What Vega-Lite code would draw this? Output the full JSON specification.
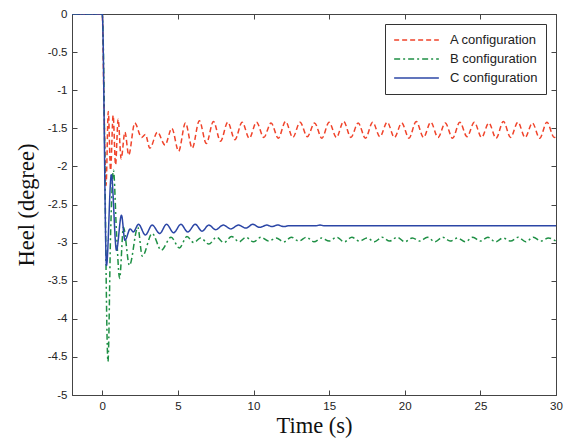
{
  "$schema": "https://vega.github.io/schema/vega-lite/v6.json",
  "width": 484,
  "height": 381,
  "autosize": {"type": "none"},
  "padding": {"left": 72, "top": 14, "right": 16, "bottom": 43},
  "background": "white",
  "config": {
    "view": {"stroke": "#444", "strokeWidth": 1},
    "axis": {
      "grid": false,
      "domainColor": "#444",
      "tickColor": "#444",
      "tickSize": -5,
      "labelFont": "Liberation Sans",
      "labelFontSize": 11.5,
      "labelColor": "#222",
      "titleFont": "Liberation Serif",
      "titleFontSize": 22.5,
      "titleFontWeight": "normal",
      "titleColor": "#111"
    },
    "legend": {
      "title": null, "orient": "top-right", "offset": 10, "symbolType": "stroke", "symbolSize": 2000, "symbolStrokeWidth": 1.6,
      "strokeColor": "#333", "fillColor": "white", "padding": 8, "rowPadding": 3, "clipHeight": 16,
      "labelFont": "Liberation Sans", "labelFontSize": 13, "labelColor": "#222", "labelOffset": 10
    }
  },
  "data": {
    "values": [
      {"t": -2, "v": 0, "s": "A configuration"},
      {"t": 0, "v": 0, "s": "A configuration"},
      {"t": 0.12, "v": -1.25, "s": "A configuration"},
      {"t": 0.25, "v": -2.25, "s": "A configuration"},
      {"t": 0.4, "v": -1.28, "s": "A configuration"},
      {"t": 0.55, "v": -2.05, "s": "A configuration"},
      {"t": 0.72, "v": -1.33, "s": "A configuration"},
      {"t": 0.88, "v": -1.98, "s": "A configuration"},
      {"t": 1.05, "v": -1.38, "s": "A configuration"},
      {"t": 1.25, "v": -1.9, "s": "A configuration"},
      {"t": 1.5, "v": -1.55, "s": "A configuration"},
      {"t": 1.75, "v": -1.85, "s": "A configuration"},
      {"t": 2.15, "v": -1.43, "s": "A configuration"},
      {"t": 2.6, "v": -1.62, "s": "A configuration"},
      {"t": 2.85, "v": -1.58, "s": "A configuration"},
      {"t": 3.15, "v": -1.76, "s": "A configuration"},
      {"t": 3.65, "v": -1.55, "s": "A configuration"},
      {"t": 4.15, "v": -1.72, "s": "A configuration"},
      {"t": 4.6, "v": -1.5, "s": "A configuration"},
      {"t": 5.05, "v": -1.8, "s": "A configuration"},
      {"t": 5.5, "v": -1.43, "s": "A configuration"},
      {"t": 5.95, "v": -1.76, "s": "A configuration"},
      {"t": 6.42, "v": -1.4, "s": "A configuration"},
      {"t": 6.88, "v": -1.7, "s": "A configuration"},
      {"t": 7.35, "v": -1.41, "s": "A configuration"},
      {"t": 7.82, "v": -1.67, "s": "A configuration"},
      {"t": 8.3, "v": -1.42, "s": "A configuration"},
      {"t": 8.77, "v": -1.65, "s": "A configuration"},
      {"t": 9.25, "v": -1.42, "s": "A configuration"},
      {"t": 9.72, "v": -1.63, "s": "A configuration"},
      {"t": 10.2, "v": -1.42, "s": "A configuration"},
      {"t": 10.68, "v": -1.62, "s": "A configuration"},
      {"t": 11.16, "v": -1.43, "s": "A configuration"},
      {"t": 11.64, "v": -1.63, "s": "A configuration"},
      {"t": 12.12, "v": -1.41, "s": "A configuration"},
      {"t": 12.6, "v": -1.62, "s": "A configuration"},
      {"t": 13.08, "v": -1.42, "s": "A configuration"},
      {"t": 13.56, "v": -1.61, "s": "A configuration"},
      {"t": 14.04, "v": -1.43, "s": "A configuration"},
      {"t": 14.52, "v": -1.63, "s": "A configuration"},
      {"t": 15.0, "v": -1.42, "s": "A configuration"},
      {"t": 15.48, "v": -1.62, "s": "A configuration"},
      {"t": 15.96, "v": -1.41, "s": "A configuration"},
      {"t": 16.44, "v": -1.62, "s": "A configuration"},
      {"t": 16.92, "v": -1.43, "s": "A configuration"},
      {"t": 17.4, "v": -1.63, "s": "A configuration"},
      {"t": 17.88, "v": -1.42, "s": "A configuration"},
      {"t": 18.36, "v": -1.61, "s": "A configuration"},
      {"t": 18.84, "v": -1.42, "s": "A configuration"},
      {"t": 19.32, "v": -1.62, "s": "A configuration"},
      {"t": 19.8, "v": -1.43, "s": "A configuration"},
      {"t": 20.28, "v": -1.63, "s": "A configuration"},
      {"t": 20.76, "v": -1.41, "s": "A configuration"},
      {"t": 21.24, "v": -1.62, "s": "A configuration"},
      {"t": 21.72, "v": -1.42, "s": "A configuration"},
      {"t": 22.2, "v": -1.62, "s": "A configuration"},
      {"t": 22.68, "v": -1.43, "s": "A configuration"},
      {"t": 23.16, "v": -1.63, "s": "A configuration"},
      {"t": 23.64, "v": -1.42, "s": "A configuration"},
      {"t": 24.12, "v": -1.61, "s": "A configuration"},
      {"t": 24.6, "v": -1.42, "s": "A configuration"},
      {"t": 25.08, "v": -1.62, "s": "A configuration"},
      {"t": 25.56, "v": -1.43, "s": "A configuration"},
      {"t": 26.04, "v": -1.63, "s": "A configuration"},
      {"t": 26.52, "v": -1.41, "s": "A configuration"},
      {"t": 27.0, "v": -1.62, "s": "A configuration"},
      {"t": 27.48, "v": -1.42, "s": "A configuration"},
      {"t": 27.96, "v": -1.62, "s": "A configuration"},
      {"t": 28.44, "v": -1.43, "s": "A configuration"},
      {"t": 28.92, "v": -1.63, "s": "A configuration"},
      {"t": 29.4, "v": -1.42, "s": "A configuration"},
      {"t": 29.88, "v": -1.62, "s": "A configuration"},
      {"t": 30, "v": -1.61, "s": "A configuration"},

      {"t": -2, "v": 0, "s": "B configuration"},
      {"t": 0, "v": 0, "s": "B configuration"},
      {"t": 0.38, "v": -4.56, "s": "B configuration"},
      {"t": 0.55, "v": -2.9, "s": "B configuration"},
      {"t": 0.74, "v": -2.05, "s": "B configuration"},
      {"t": 0.95, "v": -2.9, "s": "B configuration"},
      {"t": 1.15, "v": -3.47, "s": "B configuration"},
      {"t": 1.4, "v": -2.8, "s": "B configuration"},
      {"t": 1.8, "v": -3.3, "s": "B configuration"},
      {"t": 2.35, "v": -2.8, "s": "B configuration"},
      {"t": 2.65, "v": -3.18, "s": "B configuration"},
      {"t": 3.3, "v": -2.88, "s": "B configuration"},
      {"t": 3.9, "v": -3.1, "s": "B configuration"},
      {"t": 4.55, "v": -2.93, "s": "B configuration"},
      {"t": 5.1, "v": -3.07, "s": "B configuration"},
      {"t": 5.6, "v": -2.92, "s": "B configuration"},
      {"t": 6.05, "v": -3.0, "s": "B configuration"},
      {"t": 6.5, "v": -2.94, "s": "B configuration"},
      {"t": 7.05, "v": -3.02, "s": "B configuration"},
      {"t": 7.55, "v": -2.93, "s": "B configuration"},
      {"t": 8.05, "v": -3.0, "s": "B configuration"},
      {"t": 8.55, "v": -2.92, "s": "B configuration"},
      {"t": 9.05, "v": -2.99, "s": "B configuration"},
      {"t": 9.5, "v": -2.93, "s": "B configuration"},
      {"t": 10.0, "v": -2.99, "s": "B configuration"},
      {"t": 10.5, "v": -2.93, "s": "B configuration"},
      {"t": 11.0, "v": -2.98, "s": "B configuration"},
      {"t": 11.5, "v": -2.94, "s": "B configuration"},
      {"t": 12.0, "v": -2.99, "s": "B configuration"},
      {"t": 12.5, "v": -2.93, "s": "B configuration"},
      {"t": 13.0, "v": -2.98, "s": "B configuration"},
      {"t": 13.5, "v": -2.93, "s": "B configuration"},
      {"t": 14.0, "v": -2.99, "s": "B configuration"},
      {"t": 14.5, "v": -2.94, "s": "B configuration"},
      {"t": 15.0, "v": -2.98, "s": "B configuration"},
      {"t": 15.5, "v": -2.93, "s": "B configuration"},
      {"t": 16.0, "v": -2.99, "s": "B configuration"},
      {"t": 16.5, "v": -2.93, "s": "B configuration"},
      {"t": 17.0, "v": -2.98, "s": "B configuration"},
      {"t": 17.5, "v": -2.94, "s": "B configuration"},
      {"t": 18.0, "v": -2.99, "s": "B configuration"},
      {"t": 18.5, "v": -2.93, "s": "B configuration"},
      {"t": 19.0, "v": -2.98, "s": "B configuration"},
      {"t": 19.5, "v": -2.93, "s": "B configuration"},
      {"t": 20.0, "v": -2.99, "s": "B configuration"},
      {"t": 20.5, "v": -2.94, "s": "B configuration"},
      {"t": 21.0, "v": -2.98, "s": "B configuration"},
      {"t": 21.5, "v": -2.93, "s": "B configuration"},
      {"t": 22.0, "v": -2.99, "s": "B configuration"},
      {"t": 22.5, "v": -2.93, "s": "B configuration"},
      {"t": 23.0, "v": -2.98, "s": "B configuration"},
      {"t": 23.5, "v": -2.94, "s": "B configuration"},
      {"t": 24.0, "v": -2.99, "s": "B configuration"},
      {"t": 24.5, "v": -2.93, "s": "B configuration"},
      {"t": 25.0, "v": -2.98, "s": "B configuration"},
      {"t": 25.5, "v": -2.93, "s": "B configuration"},
      {"t": 26.0, "v": -2.99, "s": "B configuration"},
      {"t": 26.5, "v": -2.94, "s": "B configuration"},
      {"t": 27.0, "v": -2.98, "s": "B configuration"},
      {"t": 27.5, "v": -2.93, "s": "B configuration"},
      {"t": 28.0, "v": -2.99, "s": "B configuration"},
      {"t": 28.5, "v": -2.93, "s": "B configuration"},
      {"t": 29.0, "v": -2.98, "s": "B configuration"},
      {"t": 29.5, "v": -2.94, "s": "B configuration"},
      {"t": 30, "v": -2.98, "s": "B configuration"},

      {"t": -2, "v": 0, "s": "C configuration"},
      {"t": 0, "v": 0, "s": "C configuration"},
      {"t": 0.28, "v": -3.3, "s": "C configuration"},
      {"t": 0.6, "v": -2.11, "s": "C configuration"},
      {"t": 0.94, "v": -3.1, "s": "C configuration"},
      {"t": 1.27, "v": -2.64, "s": "C configuration"},
      {"t": 1.5, "v": -2.97, "s": "C configuration"},
      {"t": 1.85, "v": -2.82, "s": "C configuration"},
      {"t": 2.05, "v": -2.86, "s": "C configuration"},
      {"t": 2.4, "v": -2.76, "s": "C configuration"},
      {"t": 2.85, "v": -2.9, "s": "C configuration"},
      {"t": 3.3, "v": -2.77, "s": "C configuration"},
      {"t": 3.8, "v": -2.88, "s": "C configuration"},
      {"t": 4.25, "v": -2.76, "s": "C configuration"},
      {"t": 4.72, "v": -2.87, "s": "C configuration"},
      {"t": 5.2, "v": -2.76, "s": "C configuration"},
      {"t": 5.65, "v": -2.86, "s": "C configuration"},
      {"t": 6.15, "v": -2.76, "s": "C configuration"},
      {"t": 6.6, "v": -2.85, "s": "C configuration"},
      {"t": 7.05, "v": -2.77, "s": "C configuration"},
      {"t": 7.5, "v": -2.83, "s": "C configuration"},
      {"t": 8.0, "v": -2.77, "s": "C configuration"},
      {"t": 8.5, "v": -2.82, "s": "C configuration"},
      {"t": 9.0, "v": -2.77, "s": "C configuration"},
      {"t": 9.5, "v": -2.81, "s": "C configuration"},
      {"t": 9.95, "v": -2.76, "s": "C configuration"},
      {"t": 10.4, "v": -2.8, "s": "C configuration"},
      {"t": 10.9, "v": -2.77, "s": "C configuration"},
      {"t": 11.2, "v": -2.79, "s": "C configuration"},
      {"t": 11.6, "v": -2.77, "s": "C configuration"},
      {"t": 12.0, "v": -2.79, "s": "C configuration"},
      {"t": 12.3, "v": -2.78, "s": "C configuration"},
      {"t": 14.1, "v": -2.78, "s": "C configuration"},
      {"t": 14.4, "v": -2.77, "s": "C configuration"},
      {"t": 14.7, "v": -2.78, "s": "C configuration"},
      {"t": 30, "v": -2.78, "s": "C configuration"}
    ]
  },
  "layer": [
    {
      "mark": {"type": "line", "interpolate": "monotone", "clip": true},
      "encoding": {
        "x": {
          "field": "t", "type": "quantitative",
          "scale": {"domain": [-2, 30], "nice": false, "zero": false},
          "axis": {"title": "Time (s)", "values": [0, 5, 10, 15, 20, 25, 30], "labelPadding": 10, "labelFlush": false, "titlePadding": 3}
        },
        "y": {
          "field": "v", "type": "quantitative",
          "scale": {"domain": [-5, 0], "nice": false, "zero": false},
          "axis": {"title": "Heel (degree)", "values": [-5, -4.5, -4, -3.5, -3, -2.5, -2, -1.5, -1, -0.5, 0], "labelExpr": "toString(datum.value)", "labelPadding": 10, "titlePadding": 9}
        },
        "color": {
          "field": "s", "type": "nominal",
          "scale": {"domain": ["A configuration", "B configuration", "C configuration"], "range": ["#f0432a", "#1f9045", "#2b46a6"]},
          "legend": {}
        },
        "strokeDash": {
          "field": "s", "type": "nominal",
          "scale": {"domain": ["A configuration", "B configuration", "C configuration"], "range": [[5, 3], [6, 3, 2, 3], [1, 0]]},
          "legend": {}
        },
        "strokeWidth": {
          "field": "s", "type": "nominal",
          "scale": {"domain": ["A configuration", "B configuration", "C configuration"], "range": [1.5, 1.5, 2.4]},
          "legend": null
        }
      }
    },
    {
      "mark": {"type": "line", "opacity": 0},
      "encoding": {
        "x": {"field": "t", "type": "quantitative", "axis": {"orient": "top", "title": null, "labels": false, "values": [0, 5, 10, 15, 20, 25, 30]}},
        "y": {"field": "v", "type": "quantitative", "axis": {"orient": "right", "title": null, "labels": false, "values": [-5, -4.5, -4, -3.5, -3, -2.5, -2, -1.5, -1, -0.5, 0]}}
      }
    }
  ],
  "resolve": {"axis": {"x": "independent", "y": "independent"}}
}
